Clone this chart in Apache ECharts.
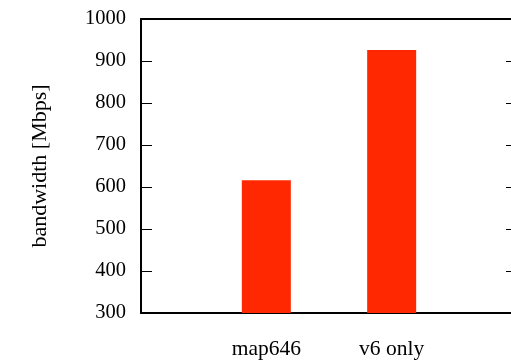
<!DOCTYPE html>
<html>
<head>
<meta charset="utf-8">
<script src="https://cdn.jsdelivr.net/npm/echarts@6/dist/echarts.min.js"></script>
<style>
html,body{margin:0;padding:0;overflow:hidden;background:#fff;}
#wrap{position:relative;width:511px;height:360px;overflow:hidden;}
#c{position:absolute;left:0;top:0;width:520px;height:360px;}
</style>
</head>
<body>
<div id="wrap"><div id="c"></div></div>
<script>
var categories = ['', 'map646', 'v6 only', ''];
var bandwidth = [null, 616, 926, null];
var yTicks = [300, 400, 500, 600, 700, 800, 900, 1000];
var yName = 'bandwidth [Mbps]';

var font = 'Liberation Serif';
var chart = echarts.init(document.getElementById('c'), null, {renderer: 'canvas'});
chart.setOption({
  animation: false,
  backgroundColor: '#fff',
  grid: {left: 141, right: 1, top: 19, bottom: 47, containLabel: false},
  xAxis: [{
    type: 'category', data: categories, boundaryGap: false, position: 'bottom',
    axisLine: {lineStyle: {color: '#000', width: 2}},
    axisTick: {show: false},
    axisLabel: {color: '#000', fontFamily: font, fontSize: 21.5, margin: 25,
      interval: 0, formatter: function (v) { return v; }},
    splitLine: {show: false}
  }, {
    type: 'category', data: categories, boundaryGap: false, position: 'top',
    axisLine: {lineStyle: {color: '#000', width: 2}},
    axisTick: {show: false}, axisLabel: {show: false}, splitLine: {show: false}
  }],
  yAxis: [{
    type: 'value', min: yTicks[0], max: yTicks[yTicks.length - 1], interval: 100,
    position: 'left',
    name: yName, nameLocation: 'middle', nameRotate: 90, nameGap: 90,
    nameTextStyle: {color: '#000', fontFamily: font, fontSize: 22},
    axisLine: {show: true, lineStyle: {color: '#000', width: 2}},
    axisTick: {show: true, inside: true, length: 11, lineStyle: {color: '#000', width: 1}},
    axisLabel: {color: '#000', fontFamily: font, fontSize: 20.5, margin: 15,
      formatter: function (v) { return String(v); }},
    splitLine: {show: false}
  }, {
    type: 'value', min: yTicks[0], max: yTicks[yTicks.length - 1], interval: 100,
    position: 'right',
    axisLine: {show: true, lineStyle: {color: '#000', width: 2}},
    axisTick: {show: true, inside: true, length: 11, lineStyle: {color: '#000', width: 1}},
    axisLabel: {show: false},
    splitLine: {show: false}
  }],
  series: [{
    type: 'bar', data: bandwidth, barWidth: 49,
    itemStyle: {color: '#ff2800'}
  }]
});
</script>
</body>
</html>
